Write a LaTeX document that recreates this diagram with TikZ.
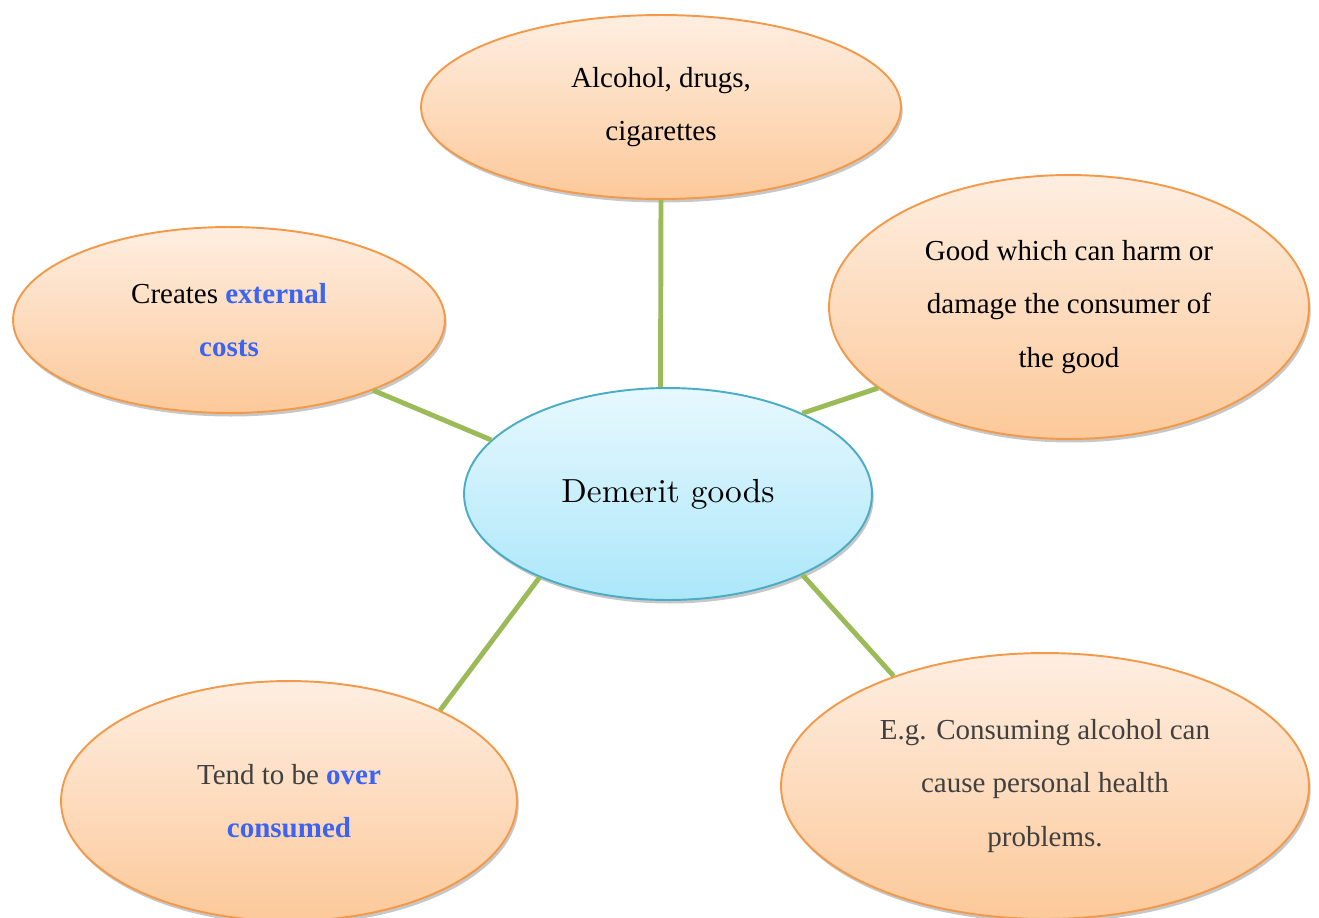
\documentclass[tikz,border=0pt]{standalone}
\usepackage{fontspec}
\newfontfamily\timesfont{Liberation Serif}
\newfontfamily\hubfont{lmroman10-regular}[Extension=.otf]
\usepackage{tikz}
\usetikzlibrary{shapes.geometric, shadows}

\definecolor{bubbleedge}{HTML}{F39A4A}
\definecolor{bubbletop}{HTML}{FEEEE1}
\definecolor{bubblebottom}{HTML}{FCC99A}
\definecolor{hubedge}{HTML}{4BACC6}
\definecolor{hubtop}{HTML}{E7F8FE}
\definecolor{hubbottom}{HTML}{ABE7FA}
\definecolor{linkgreen}{HTML}{9BBB59}
\definecolor{keyblue}{HTML}{3B64F2}
\definecolor{softgray}{HTML}{404040}

\newcommand{\keyword}[1]{\textcolor{keyblue}{\bfseries #1}}

\begin{document}
\begin{tikzpicture}[
    x=0.02cm, y=-0.02cm,
    bubble/.style={ellipse, draw=bubbleedge, line width=1.1pt, top color=bubbletop, bottom color=bubblebottom, inner sep=0pt, align=center, font=\timesfont\fontsize{16.5}{30.3}\selectfont, drop shadow={shadow xshift=1pt, shadow yshift=-2pt, opacity=0.22, fill=black}},
    hub/.style={bubble, draw=hubedge, top color=hubtop, bottom color=hubbottom, font=\hubfont\fontsize{19}{23}\selectfont},
    link/.style={draw=linkgreen, line width=2.8pt}
  ]
    \useasboundingbox (0,0) rectangle (1319,917);

    \node[hub, minimum width=8.16cm, minimum height=4.24cm] (hub) at (668,494) {Demerit goods};
    \node[bubble, minimum width=9.6cm, minimum height=3.68cm] (examples) at (661,107) {Alcohol, drugs,\\cigarettes};
    \node[bubble, minimum width=8.64cm, minimum height=3.72cm] (costs) at (229,320) {Creates \keyword{external}\\\keyword{costs}};
    \node[bubble, minimum width=9.6cm, minimum height=5.28cm] (harm) at (1069,307) {Good which can harm or\\damage the consumer of\\the good};
    \node[bubble, minimum width=9.12cm, minimum height=4.8cm, text=softgray] (overuse) at (289,801) {Tend to be \keyword{over}\\\keyword{consumed}};
    \node[bubble, minimum width=10.56cm, minimum height=5.32cm, text=softgray] (health) at (1045,786) {E.g. Consuming alcohol can\\cause personal health\\problems.};

    \draw[link] (hub.94) -- (examples.-90);
    \draw[link] (hub.163) -- (costs.-26);
    \draw[link] (hub.31) -- (harm.-157);
    \draw[link] (hub.-147) -- (overuse.31);
    \draw[link] (hub.-31) -- (health.144);
  \end{tikzpicture}
\end{document}
